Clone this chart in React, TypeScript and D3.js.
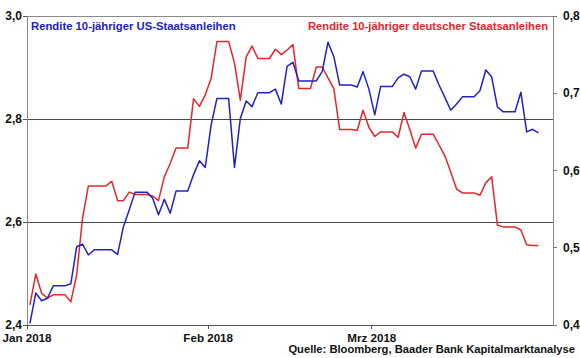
import React from 'react';
import * as d3 from 'd3';

// Tageswerte ab 1. Jan 2018 (Wochenenden mit Freitagswert)
const startDate = new Date(2018, 0, 1);
const endDate = new Date(2018, 3, 1);

const usYield = [
  2.403, 2.462, 2.447, 2.452, 2.476, 2.476, 2.476, 2.480, 2.552, 2.557,
  2.536, 2.546, 2.546, 2.546, 2.546, 2.537, 2.591, 2.624, 2.658, 2.658,
  2.658, 2.646, 2.614, 2.644, 2.617, 2.660, 2.660, 2.660, 2.692, 2.719,
  2.706, 2.788, 2.840, 2.840, 2.840, 2.706, 2.801, 2.835, 2.824, 2.851,
  2.851, 2.851, 2.858, 2.829, 2.902, 2.910, 2.874, 2.874, 2.874, 2.874,
  2.892, 2.949, 2.921, 2.866, 2.866, 2.866, 2.862, 2.892, 2.858, 2.808,
  2.863, 2.863, 2.863, 2.880, 2.887, 2.882, 2.858, 2.893, 2.893, 2.893,
  2.866, 2.842, 2.817, 2.829, 2.843, 2.843, 2.843, 2.855, 2.895, 2.882,
  2.823, 2.814, 2.814, 2.814, 2.852, 2.775, 2.780, 2.773,
];

const bundYield = [
  0.426, 0.466, 0.441, 0.435, 0.439, 0.439, 0.439, 0.430, 0.465, 0.538,
  0.580, 0.580, 0.580, 0.580, 0.586, 0.561, 0.561, 0.572, 0.569, 0.569,
  0.569, 0.567, 0.561, 0.592, 0.609, 0.629, 0.629, 0.629, 0.693, 0.683,
  0.698, 0.719, 0.767, 0.767, 0.767, 0.739, 0.691, 0.747, 0.761, 0.745,
  0.745, 0.745, 0.757, 0.750, 0.756, 0.763, 0.706, 0.706, 0.706, 0.734,
  0.734, 0.720, 0.706, 0.653, 0.653, 0.653, 0.652, 0.678, 0.656, 0.644,
  0.650, 0.650, 0.650, 0.643, 0.675, 0.653, 0.629, 0.647, 0.647, 0.647,
  0.633, 0.619, 0.598, 0.576, 0.571, 0.571, 0.571, 0.568, 0.584, 0.592,
  0.529, 0.527, 0.527, 0.527, 0.523, 0.504, 0.503, 0.503,
];

const leftTicks = [2.4, 2.6, 2.8, 3.0];
const rightTicks = [0.4, 0.5, 0.6, 0.7, 0.8];
const gridTicks = [2.6, 2.8];
const monthTicks = [new Date(2018, 0, 1), new Date(2018, 1, 1), new Date(2018, 2, 1)];
const monthNames = ['Jan', 'Feb', 'Mrz'];

const usLabel = 'Rendite 10-jähriger US-Staatsanleihen';
const bundLabel = 'Rendite 10-jähriger deutscher Staatsanleihen';
const sourceLabel = 'Quelle: Bloomberg, Baader Bank Kapitalmarktanalyse';

const width = 580, height = 358;
const plot = { left: 27, right: 553, top: 16, bottom: 325 };
const font = '"Liberation Sans", Arial, sans-serif';
const blue = '#2222c4';
const red = '#e4262b';

const fmt = (v: number) => v.toFixed(1).replace('.', ',');

const App = () => {
  const xScale = d3.scaleTime().domain([startDate, endDate]).range([plot.left, plot.right]);
  const yLeft = d3.scaleLinear().domain([2.4, 3.0]).range([plot.bottom, plot.top]);
  const yRight = d3.scaleLinear().domain([0.4, 0.8]).range([plot.bottom, plot.top]);

  // Punkte in der Mitte des Tages
  const dayX = (i: number) => xScale(d3.timeHour.offset(d3.timeDay.offset(startDate, i), 12));

  const usLine = d3.line<number>().x((d, i) => dayX(i)).y(d => yLeft(d));
  const bundLine = d3.line<number>().x((d, i) => dayX(i)).y(d => yRight(d));

  return <svg width={width} height={height} style={{ position: 'absolute', left: 0, top: 0, background: '#fff' }}
    fontFamily={font}>
    {/* Gitter */}
    {gridTicks.map(t => <line key={t}
      x1={plot.left} x2={plot.right} y1={yLeft(t)} y2={yLeft(t)}
      stroke='#4a4a4a' strokeWidth={1} shapeRendering='crispEdges' />)}

    {/* Rahmen */}
    <rect x={plot.left} y={plot.top} width={plot.right - plot.left} height={plot.bottom - plot.top}
      fill='none' stroke='#8a8a8a' strokeWidth={1} shapeRendering='crispEdges' />
    <line x1={plot.left} x2={plot.right} y1={plot.bottom} y2={plot.bottom}
      stroke='#555' shapeRendering='crispEdges' />

    {/* linke Achse */}
    {leftTicks.map(t => <g key={t}>
      <line x1={plot.left - 4} x2={plot.left} y1={yLeft(t)} y2={yLeft(t)} stroke='#555' shapeRendering='crispEdges' />
      <text x={plot.left - 5} y={yLeft(t)} dy='0.35em' textAnchor='end'
        fontSize={12} fontWeight='bold' fill='#111'>{fmt(t)}</text>
    </g>)}

    {/* rechte Achse */}
    {rightTicks.map(t => <g key={t}>
      <line x1={plot.right} x2={plot.right + 4} y1={yRight(t)} y2={yRight(t)} stroke='#777' shapeRendering='crispEdges' />
      <text x={plot.right + 10} y={yRight(t)} dy='0.35em' textAnchor='start'
        fontSize={12} fontWeight='bold' fill='#111'>{fmt(t)}</text>
    </g>)}

    {/* x-Achse */}
    {monthTicks.map((m, i) => <g key={i}>
      <line x1={xScale(m)} x2={xScale(m)} y1={plot.bottom} y2={plot.bottom + 4} stroke='#555' shapeRendering='crispEdges' />
      <text x={xScale(m)} y={plot.bottom + 17} textAnchor='middle'
        fontSize={11.6} fontWeight='bold' fill='#111'>{`${monthNames[i]} ${m.getFullYear()}`}</text>
    </g>)}

    {/* Linien */}
    <path d={bundLine(bundYield) || ''} fill='none' stroke={red} strokeWidth={1.5} strokeLinejoin='round' />
    <path d={usLine(usYield) || ''} fill='none' stroke={blue} strokeWidth={1.5} strokeLinejoin='round' />

    {/* Legenden */}
    <text x={31} y={30} fontSize={11.3} fontWeight='bold' fill={blue}>{usLabel}</text>
    <text x={548} y={30} textAnchor='end' fontSize={11.2} fontWeight='bold' fill={red}>{bundLabel}</text>

    <text x={575} y={353} textAnchor='end' fontSize={11.2} fontWeight='bold' fill='#111'>{sourceLabel}</text>
  </svg>
}

export default App;
